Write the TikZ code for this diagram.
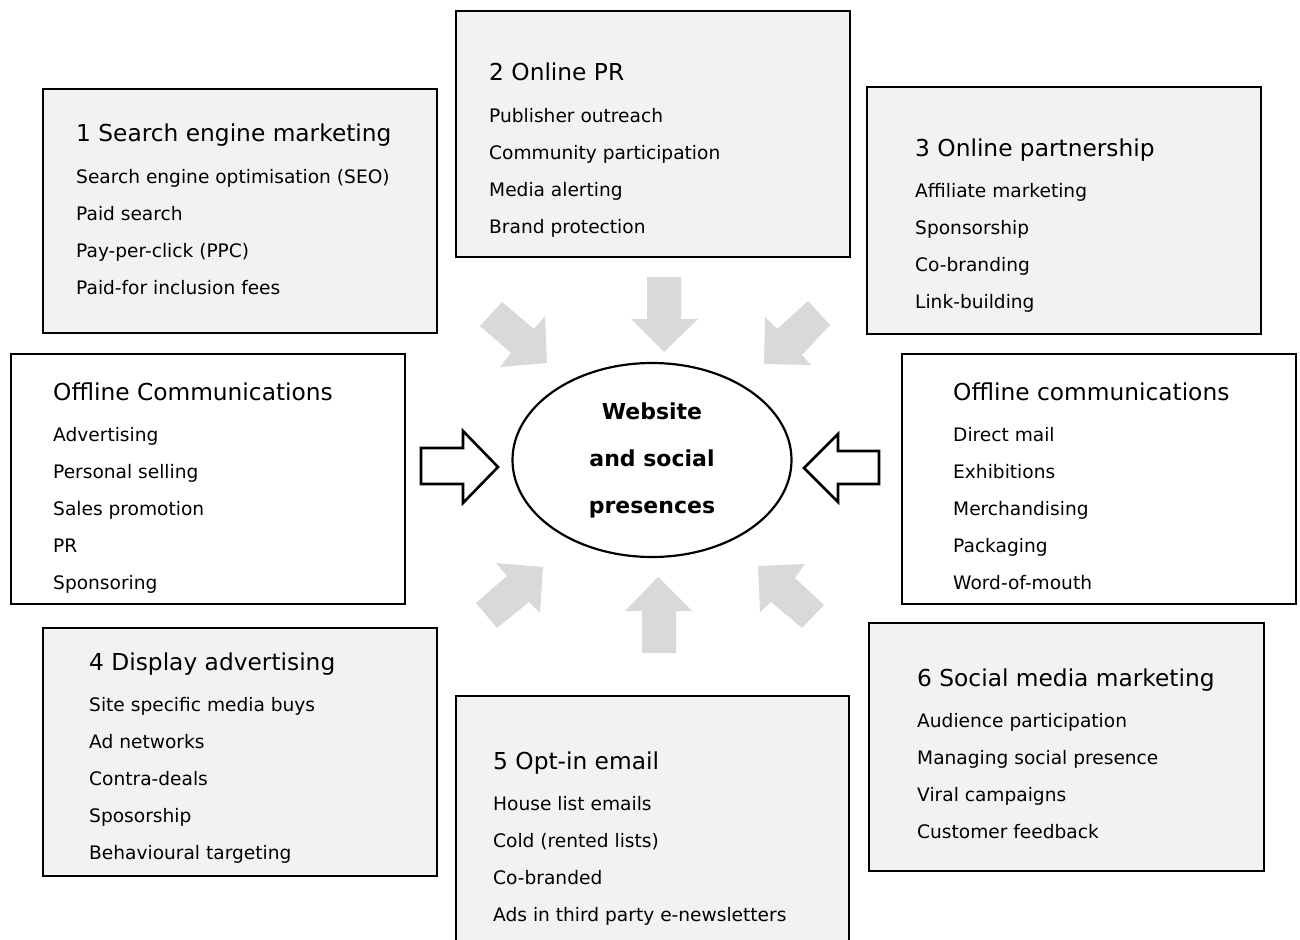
\documentclass[tikz,border=0pt]{standalone}
\usepackage{fontspec}
\setmainfont{DejaVu Sans}
\usetikzlibrary{shapes.geometric}
\definecolor{panelgray}{HTML}{F2F2F2}
\definecolor{arrowgray}{HTML}{D9D9D9}
\newcommand{\panellist}[5]{%
  \node[head] (#1-h) at (#2,#3) {#4};
  \foreach \t [count=\i] in {#5} {\node[item] (#1-\i) at (#2,{#3+41.8+36.9*(\i-1)}) {\t};}
}
\begin{document}
\begin{tikzpicture}[x=1pt,y=-1pt,
  panel/.style={draw=black, line width=2pt, fill=panelgray, rectangle, anchor=north west, inner sep=0pt},
  whitepanel/.style={panel, fill=white},
  head/.style={anchor=base west, inner sep=0pt, font=\fontsize{23.3}{28}\selectfont},
  item/.style={anchor=base west, inner sep=0pt, font=\fontsize{18.6}{22}\selectfont},
  gar/.style={fill=arrowgray, draw=none},
  oar/.style={draw=black, line width=2.6pt, fill=white, line join=miter},
]
\useasboundingbox (0,0) rectangle (1300,939);
\clip (0,0) rectangle (1300,939);

% panels
\node[panel, minimum width=394pt, minimum height=244pt] (b1) at (42,88) {};
\node[panel, minimum width=394pt, minimum height=246pt] (b2) at (455,10) {};
\node[panel, minimum width=394pt, minimum height=247pt] (b3) at (866,86) {};
\node[whitepanel, minimum width=394pt, minimum height=250pt] (offl) at (10,353) {};
\node[whitepanel, minimum width=394pt, minimum height=250pt] (offr) at (901,353) {};
\node[panel, minimum width=394pt, minimum height=248pt] (b4) at (42,627) {};
\node[panel, minimum width=393pt, minimum height=280pt] (b5) at (455,695) {};
\node[panel, minimum width=395pt, minimum height=248pt] (b6) at (868,622) {};

% texts
\panellist{t1}{76}{142}{1 Search engine marketing}{Search engine optimisation (SEO),Paid search,Pay-per-click (PPC),Paid-for inclusion fees}
\panellist{t2}{489}{81}{2 Online PR}{Publisher outreach,Community participation,Media alerting,Brand protection}
\panellist{t3}{915}{156}{3 Online partnership}{Affiliate marketing,Sponsorship,Co-branding,Link-building}
\panellist{tl}{53}{400}{Offline Communications}{Advertising,Personal selling,Sales promotion,PR,Sponsoring}
\panellist{tr}{953}{400}{Offline communications}{Direct mail,Exhibitions,Merchandising,Packaging,Word-of-mouth}
\panellist{t4}{89}{670}{4 Display advertising}{Site specific media buys,Ad networks,Contra-deals,Sposorship,Behavioural targeting}
\panellist{t5}{493}{769}{5 Opt-in email}{House list emails,Cold (rented lists),Co-branded,Ads in third party e-newsletters}
\panellist{t6}{917}{686}{6 Social media marketing}{Audience participation,Managing social presence,Viral campaigns,Customer feedback}

% centre
\node[ellipse, draw=black, line width=2.2pt, fill=white, minimum width=279pt, minimum height=194pt,
      align=center, font=\bfseries\fontsize{22}{47}\selectfont] (web) at (652,460)
      {Website\\and social\\presences};

% grey arrows
\fill[gar] (647,277) -- (681,277) -- (681,319) -- (698,319) -- (664,352) -- (631,319) -- (647,319) -- cycle;
\fill[gar] (658,577) -- (692,611) -- (676,611) -- (676,653) -- (642,653) -- (642,611) -- (625,611) -- cycle;
\fill[gar] (502,302) -- (534,329) -- (545,316) -- (547,363) -- (500,367) -- (511,353) -- (480,326) -- cycle;
\fill[gar] (808,301) -- (777,329) -- (765,317) -- (764,364) -- (811,365) -- (802,355) -- (830,325) -- cycle;
\fill[gar] (543,567) -- (496,563) -- (507,576) -- (476,603) -- (497,628) -- (529,602) -- (540,613) -- cycle;
\fill[gar] (758,566) -- (805,564) -- (795,578) -- (824,605) -- (802,628) -- (771,602) -- (760,612) -- cycle;

% outline arrows
\draw[oar] (421,448) -- (463,448) -- (463,431) -- (498,467) -- (463,503) -- (463,484) -- (421,484) -- cycle;
\draw[oar] (804,468) -- (838,434) -- (838,451) -- (879,451) -- (879,484) -- (838,484) -- (838,502) -- cycle;
\end{tikzpicture}
\end{document}
